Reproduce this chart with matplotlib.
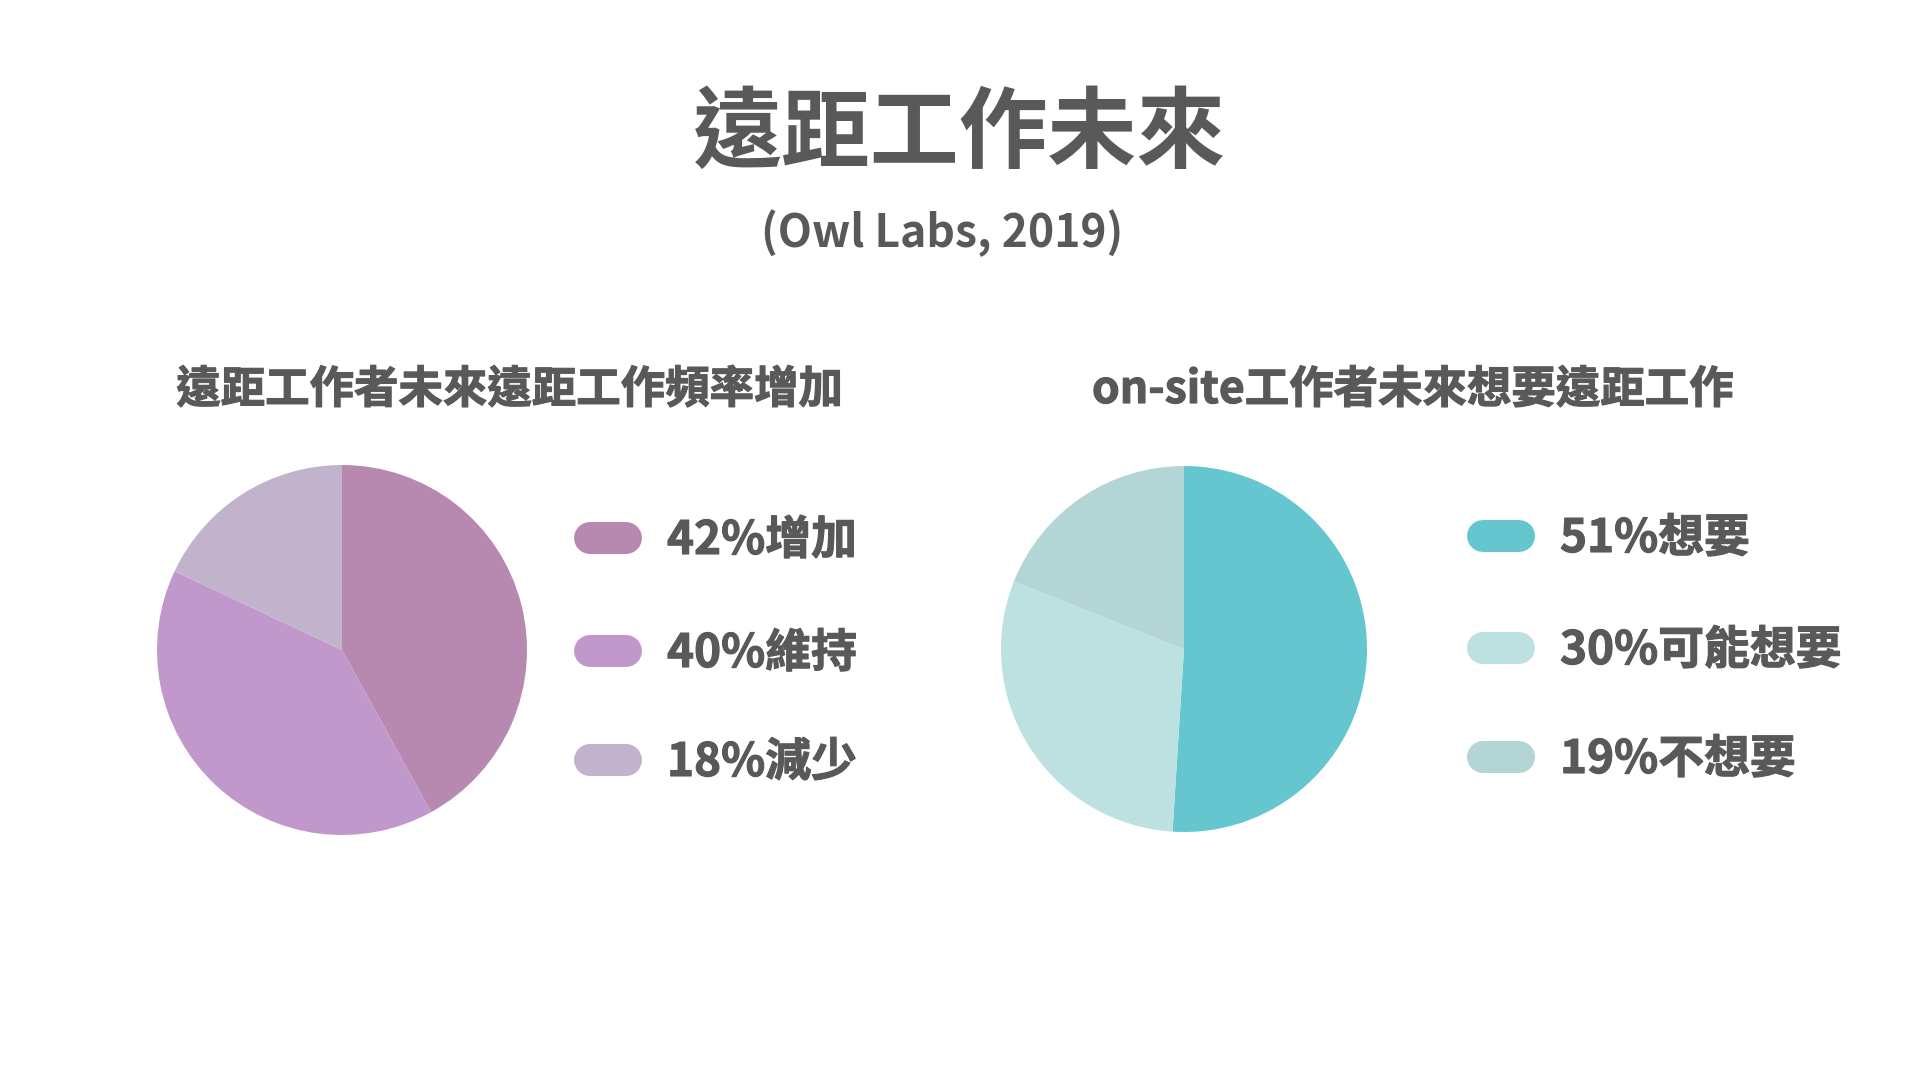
import matplotlib

matplotlib.use("Agg")
import matplotlib.pyplot as plt
import matplotlib.patheffects as pe

plt.rcParams["font.family"] = ["Noto Sans CJK TC", "DejaVu Sans"]

TITLE = "遠距工作未來"
SUBTITLE = "(Owl Labs, 2019)"

LEFT_TITLE = "遠距工作者未來遠距工作頻率增加"
LEFT_LABELS = ["增加", "維持", "減少"]
LEFT_VALUES = [42, 40, 18]
LEFT_COLORS = ["#b889b0", "#c098cc", "#c0b3cb"]

RIGHT_TITLE = "on-site工作者未來想要遠距工作"
RIGHT_LABELS = ["想要", "可能想要", "不想要"]
RIGHT_VALUES = [51, 30, 19]
RIGHT_COLORS = ["#65c6cf", "#bde0e0", "#b3d5d6"]

TEXT_COLOR = "#595959"
W, H, DPI = 1920, 1081, 100

# slightly thicker strokes to get closer to the heavy weight of the original
BOLDER = [pe.withStroke(linewidth=0.8, foreground=TEXT_COLOR)]


def fx(x):
    return x / W


def fy(y):
    return 1 - y / H


def draw_pie(fig, cx, cy, r, values, colors):
    ax = fig.add_axes([fx(cx - r), fy(cy + r), 2 * r / W, 2 * r / H])
    ax.pie(values, colors=colors, startangle=90, counterclock=False,
           wedgeprops={"linewidth": 0})
    ax.set_xlim(-1, 1)
    ax.set_ylim(-1, 1)
    ax.set_axis_off()
    return ax


def draw_legend(fig, x0, y_centers, labels, values, colors):
    pill_w, pill_h = 68, 32
    lw = pill_h * 72 / DPI
    for yc, label, value, color in zip(y_centers, labels, values, colors):
        fig.add_artist(plt.Line2D(
            [fx(x0 + pill_h / 2), fx(x0 + pill_w - pill_h / 2)], [fy(yc), fy(yc)],
            color=color, linewidth=lw, solid_capstyle="round"))
        fig.text(fx(x0 + 93), fy(yc + 3), f"{value}%{label}", fontsize=33,
                 fontweight="bold", color=TEXT_COLOR, ha="left", va="center",
                 path_effects=BOLDER)


fig = plt.figure(figsize=(W / DPI, H / DPI), dpi=DPI)
fig.patch.set_facecolor("white")

fig.text(fx(960), fy(135), TITLE, fontsize=64, fontweight="bold",
         color=TEXT_COLOR, ha="center", va="center")
fig.text(fx(942), fy(233), SUBTITLE, fontsize=32, fontweight="bold",
         color=TEXT_COLOR, ha="center", va="center")

fig.text(fx(510), fy(390), LEFT_TITLE, fontsize=32, fontweight="bold",
         color=TEXT_COLOR, ha="center", va="center", path_effects=BOLDER)
fig.text(fx(1413), fy(390), RIGHT_TITLE, fontsize=32, fontweight="bold",
         color=TEXT_COLOR, ha="center", va="center", path_effects=BOLDER)

draw_pie(fig, 342, 650, 185, LEFT_VALUES, LEFT_COLORS)
draw_pie(fig, 1184, 649, 183, RIGHT_VALUES, RIGHT_COLORS)

draw_legend(fig, 574, [538, 651, 760], LEFT_LABELS, LEFT_VALUES, LEFT_COLORS)
draw_legend(fig, 1467, [536, 648, 757], RIGHT_LABELS, RIGHT_VALUES, RIGHT_COLORS)

fig.savefig("out.png", dpi=DPI, facecolor="white")
plt.close(fig)
